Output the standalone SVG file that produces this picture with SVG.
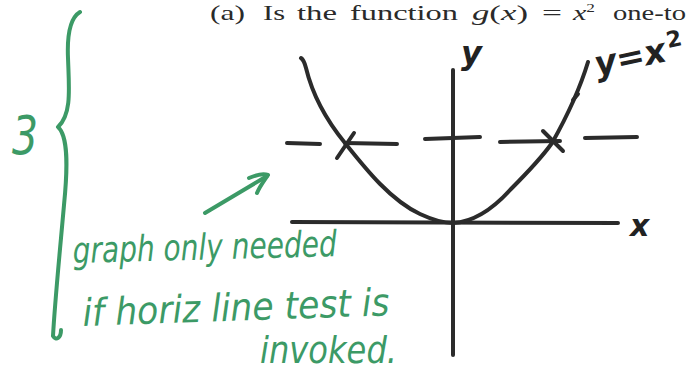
<svg xmlns="http://www.w3.org/2000/svg" width="687" height="373" viewBox="0 0 687 373">
<style>
.ink{fill:none;stroke:#2b2b2b;stroke-width:4;stroke-linecap:round;stroke-linejoin:round}
.grn{fill:none;stroke:#3c9a66;stroke-width:4;stroke-linecap:round;stroke-linejoin:round}
.print{font-family:"Liberation Serif",serif;font-size:21px;fill:#2a2a2a}
.hand{font-family:"DejaVu Sans","Liberation Sans",sans-serif;font-style:italic;fill:#3c9a66}
.lbl{font-family:"DejaVu Sans","Liberation Sans",sans-serif;font-weight:bold;fill:#222}
</style>
<rect width="687" height="373" fill="#ffffff"/>
<g id="question">
<text class="print" x="210" y="20" textLength="35" lengthAdjust="spacingAndGlyphs">(a)</text>
<text class="print" x="263" y="20" textLength="22" lengthAdjust="spacingAndGlyphs">Is</text>
<text class="print" x="297" y="20" textLength="40" lengthAdjust="spacingAndGlyphs">the</text>
<text class="print" x="350" y="20" textLength="108" lengthAdjust="spacingAndGlyphs">function</text>
<text class="print" x="472" y="20" textLength="56" lengthAdjust="spacingAndGlyphs"><tspan font-style="italic">g</tspan>(<tspan font-style="italic">x</tspan>)</text>
<text class="print" x="542" y="20" textLength="20" lengthAdjust="spacingAndGlyphs">=</text>
<text class="print" x="573" y="20" textLength="22" lengthAdjust="spacingAndGlyphs"><tspan font-style="italic">x</tspan><tspan font-size="12" dy="-8">2</tspan></text>
<text class="print" x="613" y="20" textLength="73" lengthAdjust="spacingAndGlyphs">one-to</text>
</g>
<g id="axes">
<path class="ink" d="M453,70 L453,355"/>
<path class="ink" d="M292,222 L618,223"/>
<text class="lbl" x="630" y="236" font-size="30" font-style="italic">x</text>
<text class="lbl" x="461" y="64" font-size="32" font-style="italic">y</text>
</g>
<g id="parabola">
<path class="ink" d="M301,58 C304,60 305,64 306,68 C313,97 327,121 345,143 C365,168 390,200 420,214 C435,221 445,223 453,223 C470,222 490,212 510,190 C525,175 540,160 552,143 C565,120 578,95 588,62"/>
<path class="ink" d="M573,100 L578,94"/>
<text class="lbl" x="597" y="76" font-size="34" font-style="italic" transform="rotate(-12 597 76)">y=x</text>
<text class="lbl" x="668" y="48" font-size="22" transform="rotate(-12 668 48)">2</text>
</g>
<g id="level-line">
<path class="ink" d="M287,143 L320,144"/>
<path class="ink" d="M345,143 L397,144"/>
<path class="ink" d="M425,139 L480,137"/>
<path class="ink" d="M500,142 L560,141"/>
<path class="ink" d="M585,138 L637,137"/>
<path class="ink" d="M337,158 L354,133"/>
<path class="ink" d="M543,131 L563,151"/>
</g>
<g id="annotation">
<text class="hand" x="12" y="154" font-size="54" font-style="normal" textLength="26" lengthAdjust="spacingAndGlyphs">3</text>
<path class="grn" d="M80,12 C70,18 67,35 68,58 C69,88 72,114 58,127 C68,136 68,165 64,205 C60,250 55,300 53,336 C56,341 61,338 61,330"/>
<path class="grn" d="M205,213 L267,176"/>
<path class="grn" d="M249,178 C256,175 262,173 268,175 C264,181 260,186 257,193"/>
<text class="hand" x="73" y="263" font-size="36" textLength="264" lengthAdjust="spacingAndGlyphs" transform="rotate(-1.5 73 263)">graph only needed</text>
<text class="hand" x="83" y="326" font-size="38" textLength="307" lengthAdjust="spacingAndGlyphs" transform="rotate(-2 83 326)">if horiz line test is</text>
<text class="hand" x="260" y="363" font-size="38" textLength="137" lengthAdjust="spacingAndGlyphs">invoked.</text>
</g>
</svg>
